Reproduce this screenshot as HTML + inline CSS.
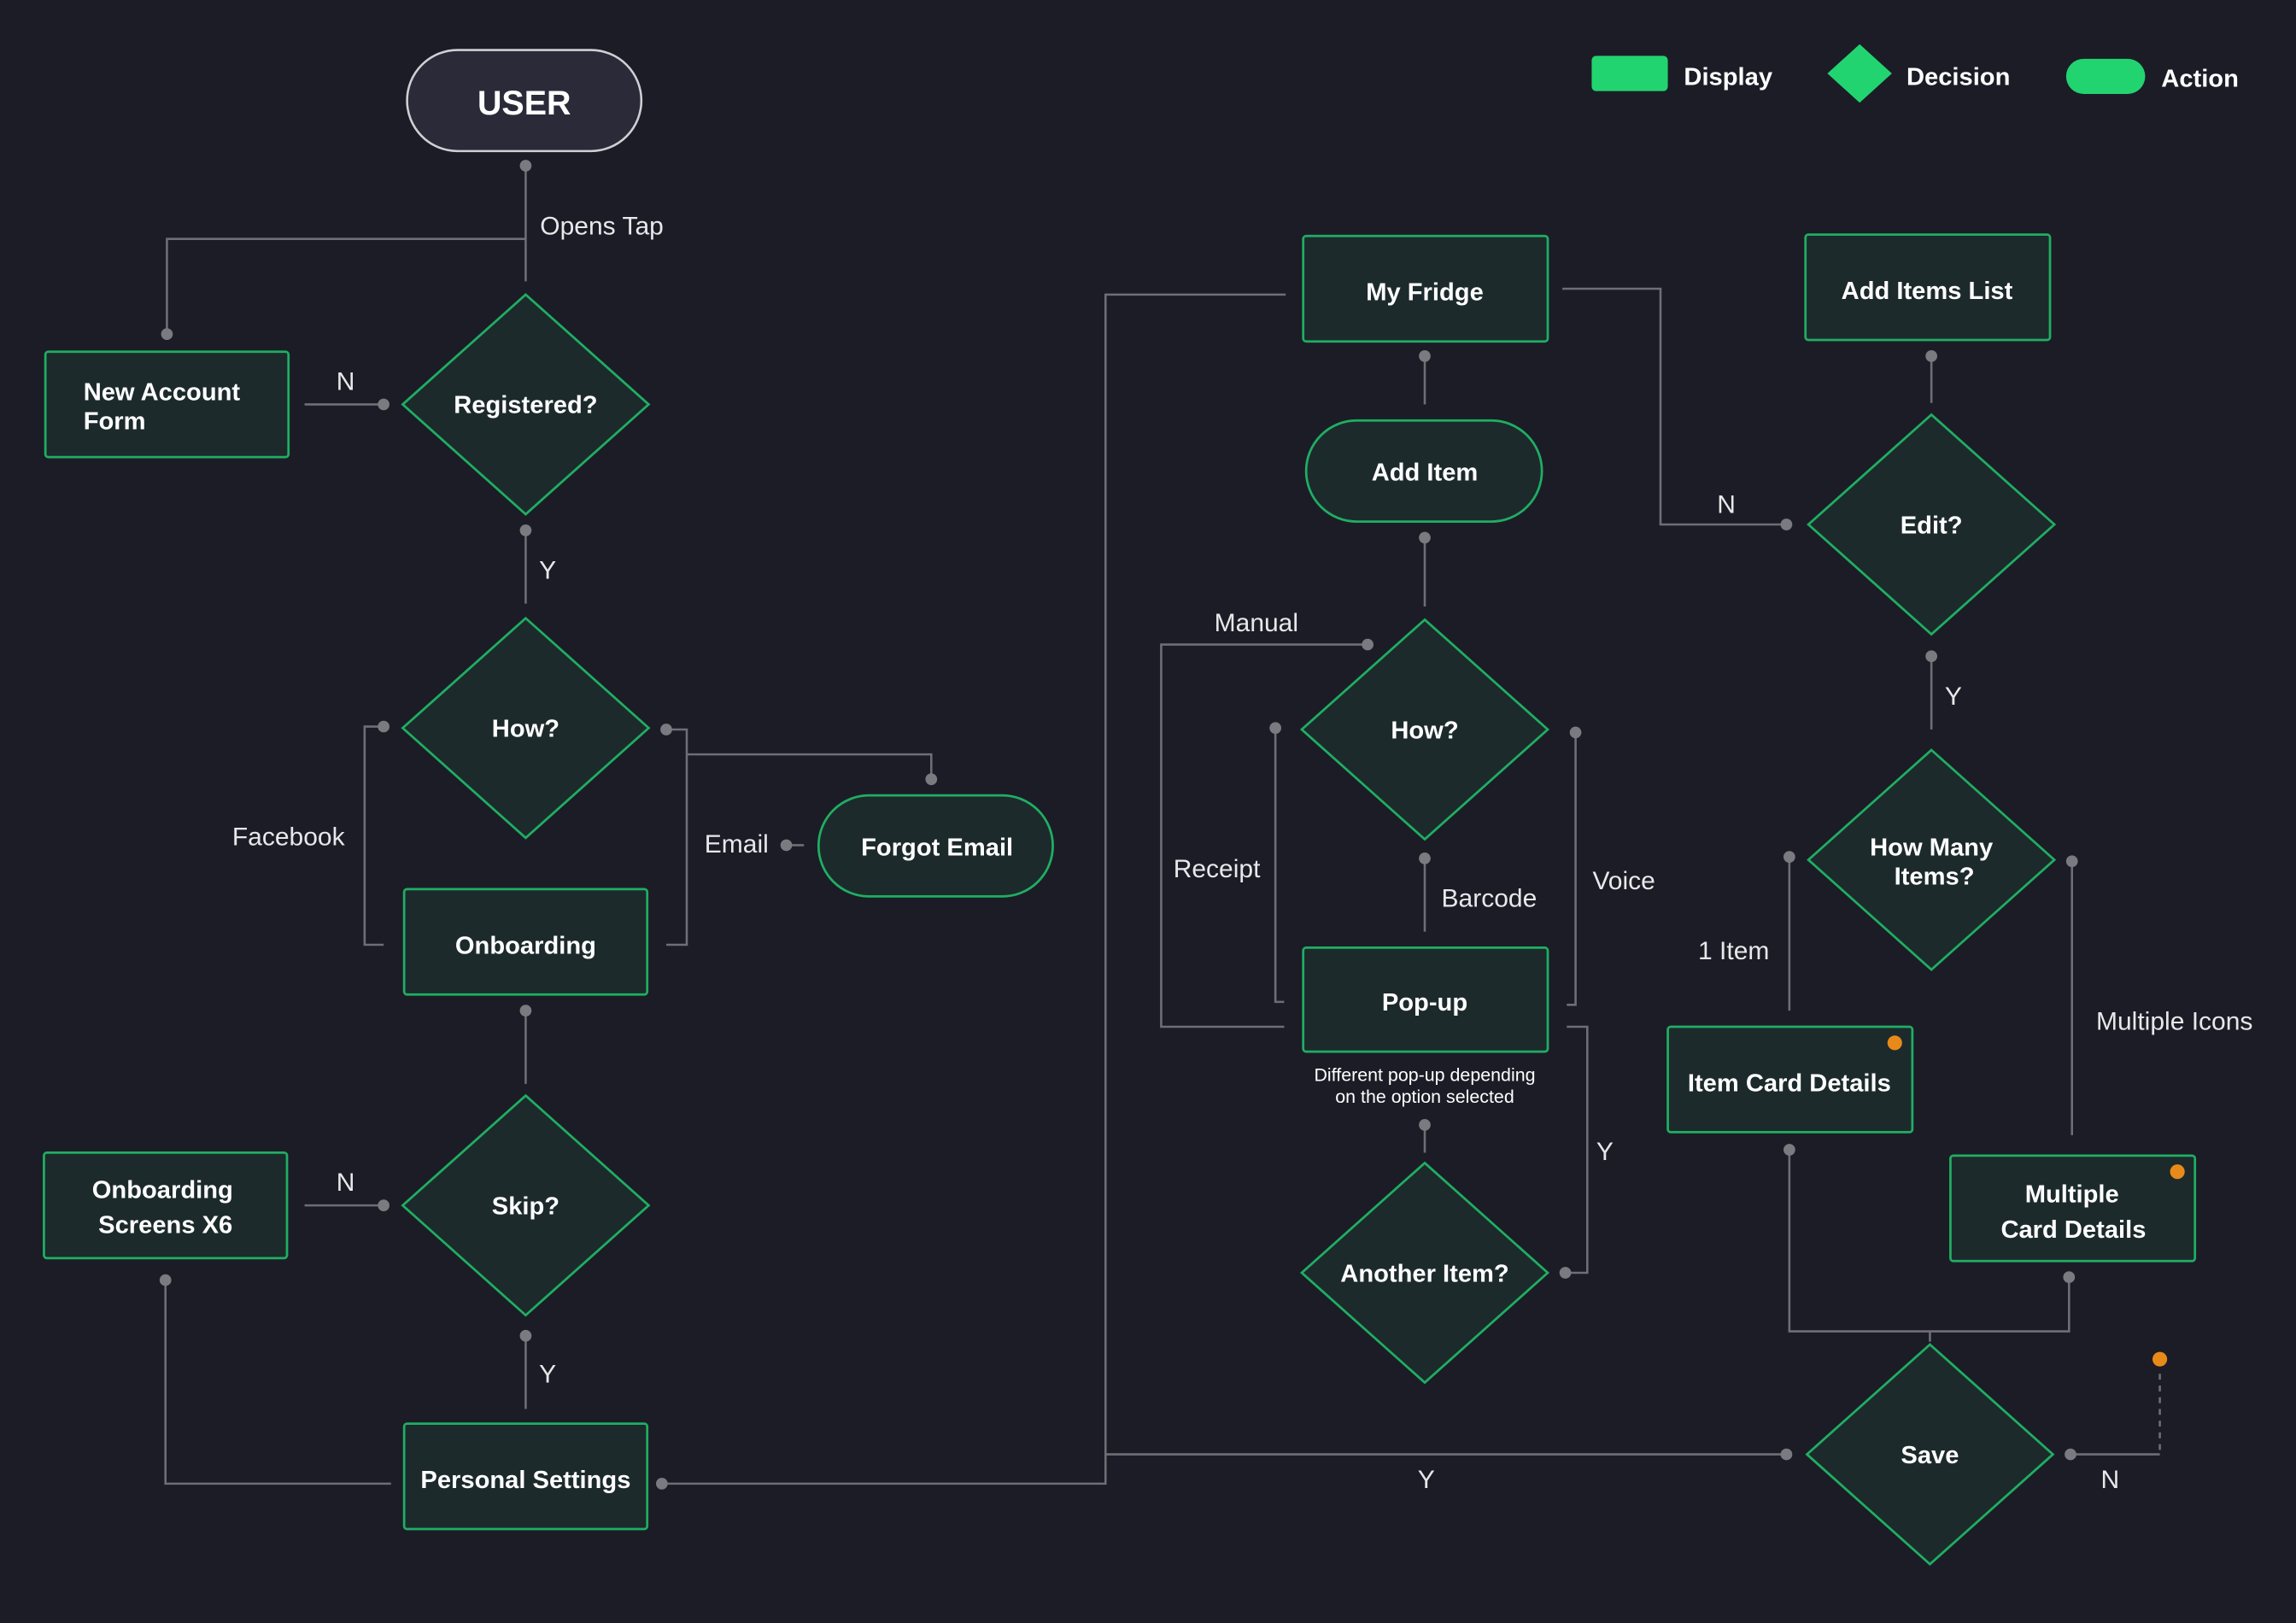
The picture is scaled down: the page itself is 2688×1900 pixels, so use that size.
<!DOCTYPE html>
<html><head><meta charset="utf-8"><style>
html,body{margin:0;padding:0;background:#1c1c27;}
svg{display:block}
text{font-family:"Liberation Sans",sans-serif;}
.n{fill:#1d2a2c;stroke:#1fae62;stroke-width:1.6}
.t{fill:#fff;font-weight:bold;font-size:17px;text-anchor:middle}
.l{fill:#e8e8ea;font-size:17.5px;text-anchor:middle}
.c{fill:none;stroke:#6e6e76;stroke-width:1.5}
.d{fill:#7a7a80}
</style></head><body>
<svg width="2688" height="1900" viewBox="0 0 1568 1108" xmlns="http://www.w3.org/2000/svg">
<rect width="1568" height="1108" fill="#1c1c27"/>
<!-- legend -->
<rect x="1087" y="38" width="52" height="24" rx="3" fill="#22d46f"/>
<text x="1150" y="58" fill="#fff" font-weight="bold" font-size="17">Display</text>
<polygon points="1270,30 1292,50 1270,70 1248,50" fill="#22d46f"/>
<text x="1302" y="58" fill="#fff" font-weight="bold" font-size="17">Decision</text>
<rect x="1411" y="40" width="54" height="24" rx="12" fill="#22d46f"/>
<text x="1476" y="59" fill="#fff" font-weight="bold" font-size="17">Action</text>

<!-- connectors -->
<g class="c">
<path d="M359 113V192M359 163H114V228"/>
<path d="M208 276H262"/>
<path d="M359 362V412"/>
<path d="M262 496H249V645H262"/>
<path d="M455 498H469V645H455M469 515H636V532"/>
<path d="M537 577H549"/>
<path d="M359 690V740"/>
<path d="M208 823H262"/>
<path d="M359 912V962"/>
<path d="M113 874V1013H267"/>
<path d="M452 1013H755V201H878M755 993H1220"/>
<path d="M973 243V276"/>
<path d="M1067 197H1134V358H1220"/>
<path d="M973 367V414"/>
<path d="M934 440H793V701H877"/>
<path d="M871 497V684H877"/>
<path d="M1076 500V686H1070"/>
<path d="M973 586V636"/>
<path d="M1070 701H1084V869H1069"/>
<path d="M973 768V787"/>
<path d="M1319 243V275"/>
<path d="M1319 448V498"/>
<path d="M1222 585V690"/>
<path d="M1415 588V775"/>
<path d="M1222 785V909H1413V872M1318 909V916"/>
<path d="M1414 993H1475"/>
<path d="M1475 990V935" stroke-dasharray="4 4"/>
</g>
<g class="d">
<circle cx="359" cy="113" r="4"/><circle cx="114" cy="228" r="4"/><circle cx="262" cy="276" r="4"/>
<circle cx="359" cy="362" r="4"/><circle cx="262" cy="496" r="4"/><circle cx="455" cy="498" r="4"/>
<circle cx="636" cy="532" r="4"/><circle cx="537" cy="577" r="4"/><circle cx="359" cy="690" r="4"/>
<circle cx="262" cy="823" r="4"/><circle cx="359" cy="912" r="4"/><circle cx="113" cy="874" r="4"/>
<circle cx="452" cy="1013" r="4"/><circle cx="1220" cy="993" r="4"/><circle cx="973" cy="243" r="4"/>
<circle cx="1220" cy="358" r="4"/><circle cx="973" cy="367" r="4"/><circle cx="934" cy="440" r="4"/>
<circle cx="871" cy="497" r="4"/><circle cx="1076" cy="500" r="4"/><circle cx="973" cy="586" r="4"/>
<circle cx="1069" cy="869" r="4"/><circle cx="973" cy="768" r="4"/><circle cx="1319" cy="243" r="4"/>
<circle cx="1319" cy="448" r="4"/><circle cx="1222" cy="585" r="4"/><circle cx="1415" cy="588" r="4"/>
<circle cx="1222" cy="785" r="4"/><circle cx="1413" cy="872" r="4"/><circle cx="1414" cy="993" r="4"/>
</g>
<circle cx="1475" cy="928" r="5" fill="#e88a1a"/>

<!-- edge labels -->
<text class="l" x="411" y="160">Opens Tap</text>
<text class="l" x="236" y="266">N</text>
<text class="l" x="374" y="395">Y</text>
<text class="l" x="197" y="577">Facebook</text>
<text class="l" x="503" y="582">Email</text>
<text class="l" x="236" y="813">N</text>
<text class="l" x="374" y="944">Y</text>
<text class="l" x="974" y="1016">Y</text>
<text class="l" x="1179" y="350">N</text>
<text class="l" x="858" y="431">Manual</text>
<text class="l" x="831" y="599">Receipt</text>
<text class="l" x="1109" y="607">Voice</text>
<text class="l" x="1017" y="619">Barcode</text>
<text class="l" x="1096" y="792">Y</text>
<text class="l" x="1334" y="481">Y</text>
<text class="l" x="1184" y="655">1 Item</text>
<text class="l" x="1485" y="703">Multiple Icons</text>
<text class="l" x="1441" y="1016">N</text>

<!-- nodes -->
<rect x="278" y="34" width="160" height="69" rx="34.5" fill="#2b2a38" stroke="#cfcfd4" stroke-width="1.5"/>
<text class="t" x="358" y="78" style="font-size:23px">USER</text>

<rect class="n" x="31" y="240" width="166" height="72" rx="2"/>
<text class="t" x="57" y="273" style="text-anchor:start">New Account</text>
<text class="t" x="57" y="293" style="text-anchor:start">Form</text>

<polygon class="n" points="359,201 443,276 359,351 275,276"/>
<text class="t" x="359" y="282">Registered?</text>
<polygon class="n" points="359,422 443,497 359,572 275,497"/>
<text class="t" x="359" y="503">How?</text>
<rect class="n" x="276" y="607" width="166" height="72" rx="2"/>
<text class="t" x="359" y="651">Onboarding</text>
<rect class="n" x="559" y="543" width="160" height="69" rx="34.5"/>
<text class="t" x="640" y="584">Forgot Email</text>
<polygon class="n" points="359,748 443,823 359,898 275,823"/>
<text class="t" x="359" y="829">Skip?</text>
<rect class="n" x="30" y="787" width="166" height="72" rx="2"/>
<text class="t" x="111" y="818">Onboarding</text>
<text class="t" x="113" y="842">Screens X6</text>
<rect class="n" x="276" y="972" width="166" height="72" rx="2"/>
<text class="t" x="359" y="1016">Personal Settings</text>

<rect class="n" x="890" y="161" width="167" height="72" rx="2"/>
<text class="t" x="973" y="205">My Fridge</text>
<rect class="n" x="892" y="287" width="161" height="69" rx="34.5"/>
<text class="t" x="973" y="328">Add Item</text>
<polygon class="n" points="973,423 1057,498 973,573 889,498"/>
<text class="t" x="973" y="504">How?</text>
<rect class="n" x="890" y="647" width="167" height="71" rx="2"/>
<text class="t" x="973" y="690">Pop-up</text>
<text x="973" y="738" fill="#fff" font-size="12.5" text-anchor="middle">Different pop-up depending</text>
<text x="973" y="753" fill="#fff" font-size="12.5" text-anchor="middle">on the option selected</text>
<polygon class="n" points="973,794 1057,869 973,944 889,869"/>
<text class="t" x="973" y="875">Another Item?</text>

<rect class="n" x="1233" y="160" width="167" height="72" rx="2"/>
<text class="t" x="1316" y="204">Add Items List</text>
<polygon class="n" points="1319,283 1403,358 1319,433 1235,358"/>
<text class="t" x="1319" y="364">Edit?</text>
<polygon class="n" points="1319,512 1403,587 1319,662 1235,587"/>
<text class="t" x="1319" y="584">How Many</text>
<text class="t" x="1321" y="604">Items?</text>
<rect class="n" x="1139" y="701" width="167" height="72" rx="2"/>
<text class="t" x="1222" y="745">Item Card Details</text>
<circle cx="1294" cy="712" r="5" fill="#e88a1a"/>
<rect class="n" x="1332" y="789" width="167" height="72" rx="2"/>
<text class="t" x="1415" y="821">Multiple</text>
<text class="t" x="1416" y="845">Card Details</text>
<circle cx="1487" cy="800" r="5" fill="#e88a1a"/>
<polygon class="n" points="1318,918 1402,993 1318,1068 1234,993"/>
<text class="t" x="1318" y="999">Save</text>
</svg>
</body></html>
